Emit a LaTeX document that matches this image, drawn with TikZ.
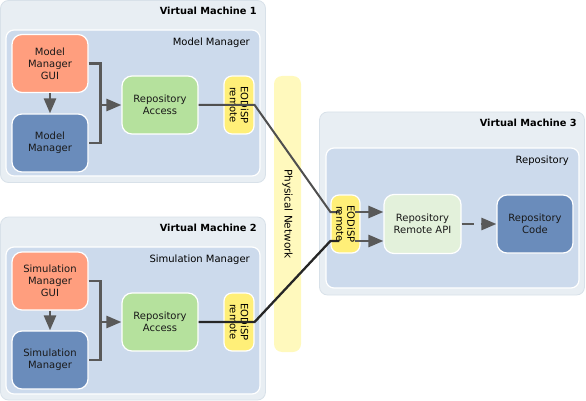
\documentclass[tikz,border=0pt]{standalone}
\usepackage{fontspec}
\setmainfont{DejaVu Sans}
\usetikzlibrary{arrows.meta,calc}
\definecolor{vmfill}{HTML}{E8EEF3}
\definecolor{vmline}{HTML}{D8E1E9}
\definecolor{infill}{HTML}{CCDAEC}
\definecolor{guifill}{HTML}{FF9E7E}
\definecolor{blufill}{HTML}{6A8CBB}
\definecolor{grnfill}{HTML}{B5E19D}
\definecolor{yelfill}{HTML}{FFEF78}
\definecolor{netfill}{HTML}{FFF9BD}
\definecolor{apifill}{HTML}{E3F1DB}
\definecolor{arrgray}{HTML}{595959}
\definecolor{lingray}{HTML}{4F4F4F}
\tikzset{
  vmbox/.style={draw=vmline, fill=vmfill, line width=0.8pt, rounded corners=8pt},
  inbox/.style={draw=white, fill=infill, line width=1.2pt, rounded corners=8pt},
  comp/.style={draw=white, line width=1.2pt, rounded corners=10pt, align=center,
    font=\fontsize{10}{12}\selectfont, text=black!90, minimum width=76pt, minimum height=58pt, inner sep=0pt},
  eodbox/.style={draw=white, fill=yelfill, line width=1.2pt, rounded corners=8pt,
    minimum width=30pt, minimum height=58pt, inner sep=0pt},
  rotlbl/.style={rotate=-90, align=center, font=\fontsize{10}{11}\selectfont, inner sep=0pt},
  vmtitle/.style={anchor=east, font=\bfseries\fontsize{9.8}{11}\selectfont, inner sep=0pt},
  intitle/.style={anchor=east, font=\fontsize{10}{11}\selectfont, inner sep=0pt},
  arr/.style={draw=arrgray, line width=2.6pt, -{Triangle[length=15pt,width=12pt]}},
  conn/.style={draw=arrgray, line width=2.6pt},
  netline/.style={draw=lingray, line width=2pt},
}
\begin{document}
\begin{tikzpicture}[x=1pt,y=-1pt]
\useasboundingbox (0,0) rectangle (586,401);
% Virtual machine 1
\node[vmbox, minimum width=265pt, minimum height=182pt] (vm1) at (133,91.5) {};
\node[vmtitle] (vm1t) at (257,11) {Virtual Machine 1};
\node[inbox, minimum width=254pt, minimum height=146pt] (mm) at (133,103) {};
\node[intitle] (mmt) at (250,43) {Model Manager};
\node[comp, fill=guifill] (gui1) at (50,63.5) {Model\\Manager\\GUI};
\node[comp, fill=blufill] (mm1) at (50,143) {Model\\Manager};
\node[comp, fill=grnfill] (ra1) at (160,105) {Repository\\Access};
\node[eodbox] (eod1) at (239,105) {};
\node[rotlbl] (eod1t) at (eod1) {EODiSP\\remote};
% Virtual machine 2
\node[vmbox, minimum width=265pt, minimum height=183pt] (vm2) at (133,308.5) {};
\node[vmtitle] (vm2t) at (257,228) {Virtual Machine 2};
\node[inbox, minimum width=254pt, minimum height=147pt] (sm) at (133,320.5) {};
\node[intitle] (smt) at (250,260) {Simulation Manager};
\node[comp, fill=guifill] (gui2) at (50,281) {Simulation\\Manager\\GUI};
\node[comp, fill=blufill] (mm2) at (50,360) {Simulation\\Manager};
\node[comp, fill=grnfill] (ra2) at (160,322) {Repository\\Access};
\node[eodbox] (eod2) at (239,322) {};
\node[rotlbl] (eod2t) at (eod2) {EODiSP\\remote};
% Physical network
\node[draw=none, fill=netfill, rounded corners=8pt, minimum width=27pt, minimum height=276pt] (net) at (287.5,214) {};
\node[rotlbl, font=\fontsize{10.5}{11}\selectfont] (nett) at (net) {Physical Network};
% Virtual machine 3
\node[vmbox, minimum width=265pt, minimum height=183pt] (vm3) at (452,203.5) {};
\node[vmtitle] (vm3t) at (577,123) {Virtual Machine 3};
\node[inbox, minimum width=253pt, minimum height=140pt] (repo) at (452.5,218) {};
\node[intitle] (repot) at (569,161) {Repository};
\node[eodbox, minimum width=29pt] (eod3) at (345.5,224) {};
\node[comp, fill=apifill, minimum width=77pt, minimum height=59pt] (api) at (422.5,224) {Repository\\Remote API};
\node[comp, fill=blufill] (code) at (535,224) {Repository\\Code};
% internal arrows VM1
\coordinate (j1) at ($(ra1.west)+(-21,0)$);
\draw[conn] (gui1.east) -| (j1) |- (mm1.east);
\draw[arr] (j1) -- (ra1.west);
\draw[arr] (gui1.south) -- (mm1.north);
% internal arrows VM2
\coordinate (j2) at ($(ra2.west)+(-21,0)$);
\draw[conn] (gui2.east) -| (j2) |- (mm2.east);
\draw[arr] (j2) -- (ra2.west);
\draw[arr] (gui2.south) -- (mm2.north);
% network lines
\draw[netline] (ra1.east) -- (eod1.east) -- ($(eod3.west)+(0,-12)$) -- ++(9,0);
\draw[netline, draw=black!85, line width=2.3pt] (ra2.east) -- (eod2.east) -- ($(eod3.west)+(0,17)$) -- ++(9,0);
\node[rotlbl] (eod3t) at (eod3) {EODiSP\\remote};
% VM3 arrows
\draw[arr] ($(eod3.east)+(-6,-12)$) -- ($(api.west)+(0,-12)$);
\draw[arr] ($(eod3.east)+(-6,17)$) -- ($(api.west)+(0,17)$);
\draw[arr, dash pattern=on 12pt off 7pt] (api.east) -- (code.west);
\end{tikzpicture}
\end{document}
